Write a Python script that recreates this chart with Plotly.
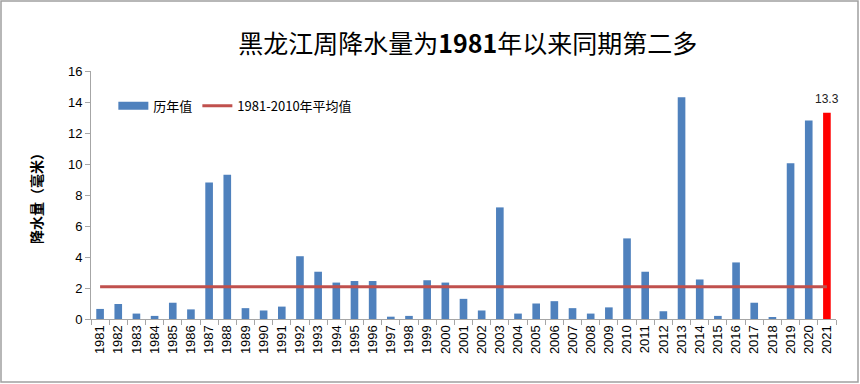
import plotly.graph_objects as go

years = [str(y) for y in range(1981, 2022)]
values = [0.65, 0.97, 0.35, 0.2, 1.05, 0.62, 8.8, 9.3, 0.7, 0.55,
          0.8, 4.05, 3.05, 2.35, 2.45, 2.45, 0.15, 0.2, 2.5, 2.35,
          1.3, 0.55, 7.2, 0.35, 1.0, 1.15, 0.7, 0.35, 0.75, 5.2,
          3.05, 0.5, 14.3, 2.55, 0.2, 3.65, 1.05, 0.12, 10.05, 12.8,
          13.3]
avg_value = 2.08
highlight_label = "13.3"

colors = ["#4F81BD"] * (len(years) - 1) + ["#FF0000"]

W, H = 860, 384
ml, mr, mt, mb = 91, 24, 71, 65

fig = go.Figure()
fig.add_trace(go.Bar(x=years, y=values, name="历年值", marker_color=colors,
                     marker_line_width=0, showlegend=False))
# legend entry for the bars (wide rectangle swatch)
fig.add_trace(go.Scatter(x=[years[0]], y=[None], name="历年值", mode="lines",
                         line=dict(color="#4F81BD", width=8), showlegend=True))
fig.add_trace(go.Scatter(x=years, y=[avg_value] * len(years), mode="lines",
                         name="1981-2010年平均值",
                         line=dict(color="#C0504D", width=3)))

fig.add_annotation(x=len(years) - 1, y=values[-1], text=highlight_label, showarrow=False,
                   yanchor="bottom", yshift=5,
                   font=dict(size=12, color="#222", family="Liberation Sans Narrow, Liberation Sans, sans-serif"))

# outer frame
pw, ph = W - ml - mr, H - mt - mb
fig.add_shape(type="rect", xref="paper", yref="paper",
              x0=-(ml - 1) / pw, x1=1 + (mr - 2) / pw,
              y0=-(mb - 2) / ph, y1=1 + (mt - 1) / ph,
              line=dict(color="#A0A0A0", width=1.5))

fig.update_layout(
    width=W, height=H,
    margin=dict(l=ml, r=mr, t=mt, b=mb),
    paper_bgcolor="white", plot_bgcolor="white",
    barmode="overlay", bargap=0.58,
    title=dict(text="黑龙江周降水量为<b>1981</b>年以来同期第二多", x=0.544, xanchor="center",
               y=0.885, yanchor="middle",
               font=dict(size=25, color="#000", family="Noto Sans CJK SC")),
    font=dict(family="Noto Sans CJK SC, Liberation Sans", color="#000"),
    legend=dict(orientation="h", x=0.03, y=0.86, xanchor="left", yanchor="middle",
                bgcolor="rgba(0,0,0,0)", font=dict(size=13, color="#000"),
                itemwidth=30, tracegroupgap=0, traceorder="normal"),
    xaxis=dict(type="category", showline=True, linecolor="#A6A6A6", linewidth=1,
               ticks="outside", tickson="boundaries", ticklen=5, tickcolor="#A6A6A6",
               tickangle=-90, tickfont=dict(size=13, family="Liberation Sans, Arial", color="#000"),
               showgrid=False, range=[-0.5, 40.5]),
    yaxis=dict(range=[0, 16], dtick=2, showline=True, linecolor="#A6A6A6", linewidth=1,
               ticks="outside", ticklen=5, tickcolor="#A6A6A6", showgrid=False,
               zeroline=False,
               tickfont=dict(size=13, family="Liberation Sans Narrow, Liberation Sans", color="#000"),
               title=dict(text="<b>降水量（毫米）</b>", font=dict(size=14, family="Noto Sans CJK SC"),
                          standoff=22)),
)

fig.write_html("out.html", post_script="document.body.style.margin='0';",
               config={"displayModeBar": False})
